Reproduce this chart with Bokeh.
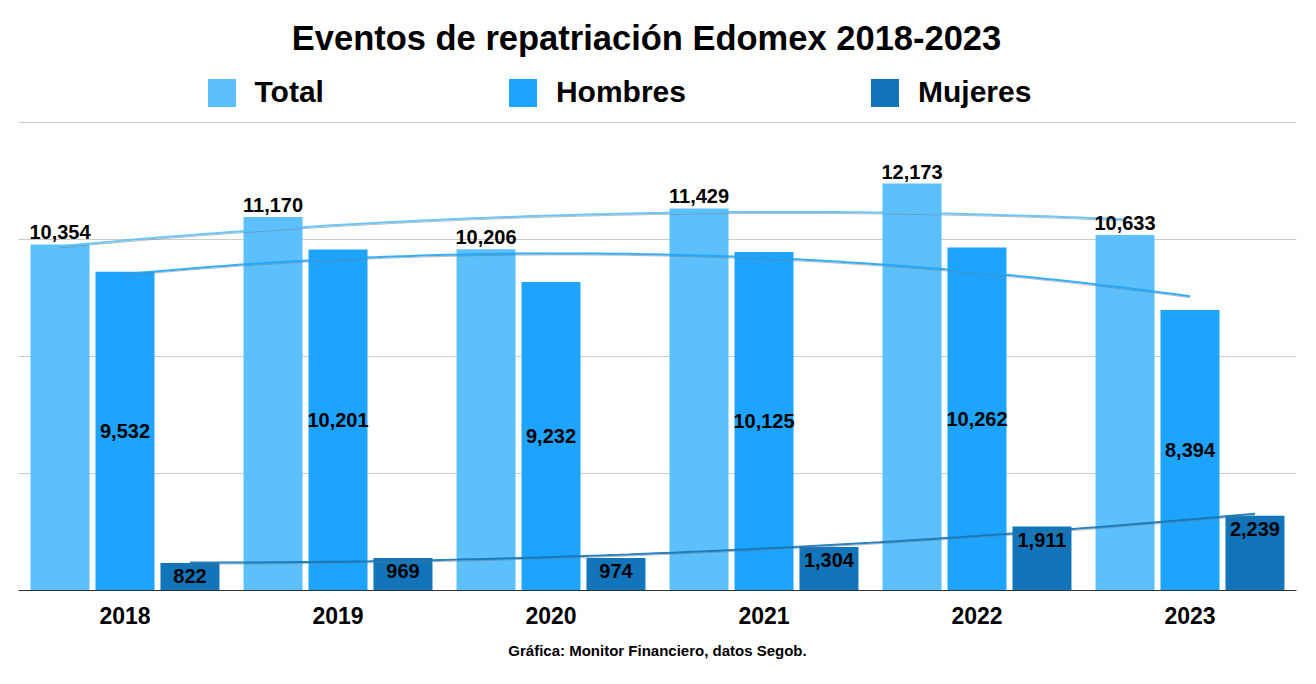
import numpy as np
from bokeh.plotting import figure
from bokeh.models import (FactorRange, Range1d, Legend, LegendItem, Title, Label,
                          ColumnDataSource, FixedTicker, Grid)
from bokeh.transform import dodge
from bokeh.core.properties import value
from bokeh.embed import file_html
from bokeh.resources import INLINE

# ---------------- data ----------------
years = ["2018", "2019", "2020", "2021", "2022", "2023"]
total = [10354, 11170, 10206, 11429, 12173, 10633]
hombres = [9532, 10201, 9232, 10125, 10262, 8394]
mujeres = [822, 969, 974, 1304, 1911, 2239]
series_names = ["Total", "Hombres", "Mujeres"]
grid_values = [0, 3500, 7000, 10500, 14000]
title_text = "Eventos de repatriación Edomex 2018-2023"
footer_text = "Gráfica: Monitor Financiero, datos Segob."

# ---------------- style ----------------
colors = ["#5BC0FB", "#1EA4FC", "#1275BA"]
FONT = "Liberation Sans"
W, H = 1316, 684
L, R, B = 18, 20, 94
FH = H - B                      # frame covers canvas top down to the baseline
PX_PER_UNIT = 468 / 14000       # chart area (gridlines 0..14000) is 468 px tall
Y_END = FH / PX_PER_UNIT
offsets = [-0.305, 0.0, 0.305]
bar_w = 0.277

src = ColumnDataSource(dict(
    years=years,
    Total=total, Hombres=hombres, Mujeres=mujeres,
    hombres_mid=[v / 2 for v in hombres],
    total_lbl=[f"{v:,}" for v in total],
    hombres_lbl=[f"{v:,}" for v in hombres],
    mujeres_lbl=[f"{v:,}" for v in mujeres],
))

p = figure(width=W, height=H, title=None,
           x_range=FactorRange(factors=years, range_padding=0),
           y_range=Range1d(0, Y_END),
           output_backend="svg", toolbar_location=None,
           y_axis_location=None,
           min_border_left=L, min_border_right=R,
           min_border_top=0, min_border_bottom=B)
p.outline_line_color = None
p.background_fill_color = "white"
for g in p.grid:
    g.visible = False
p.add_layout(Grid(dimension=1, ticker=FixedTicker(ticks=grid_values),
                  grid_line_color="#cccccc", grid_line_width=1), "center")

renderers = []
data_series = [total, hombres, mujeres]
for name, col, off in zip(series_names, colors, offsets):
    r = p.vbar(x=dodge("years", off, range=p.x_range), top=name, width=bar_w,
               source=src, fill_color=col, line_color=None)
    renderers.append(r)

# trend lines (polynomial, degree 2, fitted to each series)
for vals, col, off in zip(data_series, colors, offsets):
    idx = np.arange(len(vals))
    coefs = np.polyfit(idx, vals, 2)
    xs = np.linspace(0, len(vals) - 1, 120)
    ys = np.polyval(coefs, xs)
    p.line(xs + 0.5 + off, ys - 45, line_color="#777777", line_width=1, line_alpha=0.5)
    p.line(xs + 0.5 + off, ys, line_color=col, line_width=2, line_alpha=0.9)

txt = dict(text_font=value(FONT), text_font_style="bold", text_font_size="20px",
           text_color="#000000", text_align="center", source=src)
p.text(x=dodge("years", offsets[0], range=p.x_range), y="Total", text="total_lbl",
       text_baseline="bottom", y_offset=-5, **txt)
p.text(x=dodge("years", offsets[1], range=p.x_range), y="hombres_mid", text="hombres_lbl",
       text_baseline="middle", **txt)
p.text(x=dodge("years", offsets[2], range=p.x_range), y="Mujeres", text="mujeres_lbl",
       text_baseline="top", y_offset=6, **txt)

ax = p.xaxis[0]
ax.axis_line_color = "#333333"
ax.axis_line_width = 1
ax.major_tick_line_color = None
ax.minor_tick_line_color = None
ax.major_label_text_font = FONT
ax.major_label_text_font_style = "bold"
ax.major_label_text_font_size = "23px"
ax.major_label_text_color = "#000000"
ax.major_label_standoff = 10

# legend glyph area 35 px; Bokeh insets area glyphs by 10% -> 28 px squares
legend = Legend(items=[LegendItem(label=n, renderers=[r]) for n, r in zip(series_names, renderers)],
                orientation="horizontal", location=(185.5, FH - 109.5),
                glyph_width=35, glyph_height=35, label_standoff=16, spacing=181,
                padding=0, margin=0, border_line_color=None, background_fill_alpha=0,
                label_text_font=FONT, label_text_font_style="bold",
                label_text_font_size="30px", label_text_color="#000000",
                label_height=35)
p.add_layout(legend, "center")

p.add_layout(Label(x=646 - L, y=FH - 37, x_units="screen", y_units="screen",
                   text=title_text, text_align="center", text_baseline="middle",
                   text_font=FONT, text_font_style="bold", text_font_size="34.5px",
                   text_color="#000000"))

p.add_layout(Title(text=footer_text, align="center", text_font=FONT,
                   text_font_style="bold", text_font_size="15px",
                   text_color="#000000", standoff=26), "below")

open("out.html", "w").write(file_html(p, INLINE))
